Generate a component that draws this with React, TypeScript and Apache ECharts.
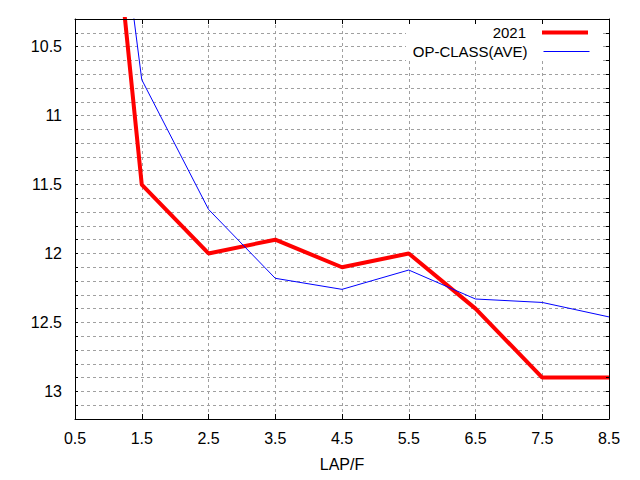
import React, { useEffect, useRef } from "react";
import * as echarts from "echarts";

const lapX = [0.5, 1.5, 2.5, 3.5, 4.5, 5.5, 6.5, 7.5, 8.5];
const series2021 = [6.72, 11.5, 12.0, 11.9, 12.1, 12.0, 12.4, 12.9, 12.9];
const seriesOpClass = [6.95, 10.74, 11.68, 12.18, 12.26, 12.12, 12.33, 12.355, 12.46];
const seriesNames = ["2021", "OP-CLASS(AVE)"];
const xAxisName = "LAP/F";
const X_OFFSET = 0.5; // axis runs 0..8 internally, labelled 0.5..8.5

const FONT = "Liberation Sans, Arial, sans-serif";
const GRID_LINE = { show: true, lineStyle: { color: "#a0a0a0", type: [3, 3], width: 1 } };

export default function App() {
  const ref = useRef<HTMLDivElement>(null);
  useEffect(() => {
    document.body.style.margin = "0";
    const chart = echarts.init(ref.current!, null, { renderer: "svg" });
    const xLabel = (v: number) => (v + X_OFFSET).toFixed(1);
    const yLabel = (v: number) => {
      const r = Math.round(v * 10);
      return r % 5 === 0 ? String(r / 10) : "";
    };
    const baseX = {
      type: "value",
      min: 0,
      max: 8,
      interval: 1,
      axisLine: { show: true, onZero: false, lineStyle: { color: "#000", width: 1 } },
      axisTick: { show: true, inside: true, length: 5, lineStyle: { color: "#000" } },
    };
    const baseY = {
      type: "value",
      min: 10.3,
      max: 13.2,
      interval: 0.1,
      inverse: true,
      axisLine: { show: true, onZero: false, lineStyle: { color: "#000", width: 1 } },
      axisTick: { show: true, inside: true, length: 3, lineStyle: { color: "#000" } },
    };
    const legendBase = {
      right: 50,
      padding: 0,
      align: "right",
      orient: "vertical",
      itemWidth: 46,
      itemHeight: 14,
      selectedMode: false,
      itemStyle: { opacity: 0 },
      textStyle: { fontSize: 15, color: "#000", fontFamily: FONT, padding: [0, 11, 0, 0] },
    };
    chart.setOption({
      animation: false,
      backgroundColor: "#fff",
      textStyle: { fontFamily: FONT },
      grid: { left: 75, right: 31, top: 19, bottom: 61, containLabel: false },
      xAxis: [
        {
          ...baseX,
          position: "bottom",
          name: xAxisName,
          nameLocation: "middle",
          nameGap: 37,
          nameTextStyle: { fontSize: 16, color: "#000", fontFamily: FONT },
          axisLabel: { formatter: xLabel, fontSize: 16, color: "#000", margin: 11, fontFamily: FONT },
          splitLine: GRID_LINE,
        },
        {
          ...baseX,
          position: "top",
          z: 5,
          axisLabel: { show: false },
          splitLine: { show: false },
        },
      ],
      yAxis: [
        {
          ...baseY,
          position: "left",
          axisLabel: { formatter: yLabel, fontSize: 16, color: "#000", margin: 13, fontFamily: FONT },
          splitLine: GRID_LINE,
        },
        {
          ...baseY,
          position: "right",
          z: 5,
          axisLabel: { show: false },
          splitLine: { show: false },
        },
      ],
      graphic: [
        {
          type: "rect",
          z: 1,
          shape: { x: 406, y: 20, width: 194, height: 41 },
          style: { fill: "#fff" },
          silent: true,
        },
      ],
      legend: [
        { ...legendBase, data: [seriesNames[0]], top: 25, lineStyle: { width: 4 } },
        { ...legendBase, data: [seriesNames[1]], top: 44, lineStyle: { width: 1 } },
      ],
      series: [
        {
          name: seriesNames[0],
          type: "line",
          symbol: "none",
          clip: true,
          z: 3,
          lineStyle: { color: "#ff0000", width: 4 },
          itemStyle: { color: "#ff0000" },
          data: lapX.map((x, i) => [x - X_OFFSET, series2021[i]]),
        },
        {
          name: seriesNames[1],
          type: "line",
          symbol: "none",
          clip: true,
          z: 3,
          lineStyle: { color: "#0000ff", width: 1 },
          itemStyle: { color: "#0000ff" },
          data: lapX.map((x, i) => [x - X_OFFSET, seriesOpClass[i]]),
        },
      ],
    });
    return () => chart.dispose();
  }, []);
  return <div ref={ref} style={{ width: 640, height: 480 }} />;
}
